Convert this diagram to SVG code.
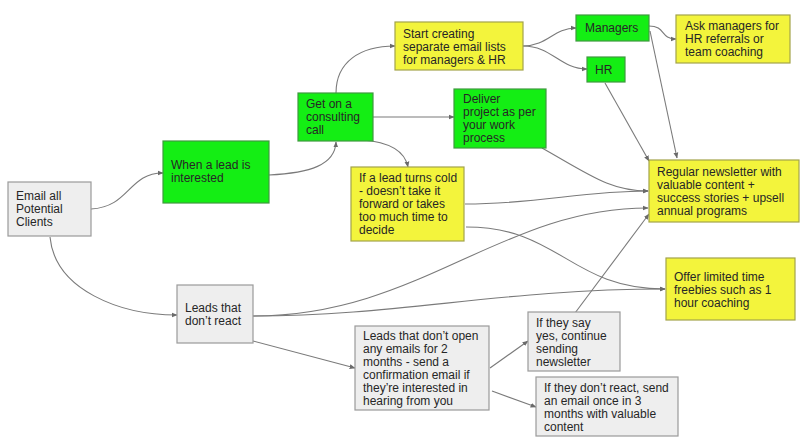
<svg xmlns="http://www.w3.org/2000/svg" width="800" height="445" viewBox="0 0 800 445">
<style>
.g rect{fill:#eeeeee;stroke:#9a9a9a;stroke-width:1.2}
.gr rect{fill:#14ee14;stroke:#3f9a3f;stroke-width:1.2}
.y rect{fill:#f3f43c;stroke:#a3a34a;stroke-width:1.2}
text{font-family:"Liberation Sans",Arial,sans-serif;font-size:12px;fill:#262626}
.c path{fill:none;stroke:#7a7a7a;stroke-width:1.1;marker-end:url(#a)}
</style>
<defs>
<marker id="a" viewBox="0 0 10 10" refX="9" refY="5" markerWidth="6" markerHeight="6" orient="auto" markerUnits="userSpaceOnUse">
<path d="M0,1 L10,5 L0,9 z" fill="#6a6a6a"/>
</marker>
</defs>
<rect width="800" height="445" fill="#ffffff"/>
<g class="c" id="connectors">
<path d="M91,209 C130,207 128,173 163,173"/>
<path d="M269,175 C310,173 335,165 336,142"/>
<path d="M336,93 C336,62 360,46 395,46"/>
<path d="M373,117 L454,117"/>
<path d="M362,140 C390,142 405,152 408,167"/>
<path d="M523,46 C548,46 553,28 576,28"/>
<path d="M523,46 C552,46 560,69 587,69"/>
<path d="M649,26 C666,26 660,39 676,39"/>
<path d="M650,31 L677,158"/>
<path d="M605,83 L649,161"/>
<path d="M542,148 C590,175 610,191 648,191"/>
<path d="M465,204 C540,204 580,191 648,191"/>
<path d="M253,316 C420,316 500,208 648,208"/>
<path d="M466,227 C560,227 570,289 665,289"/>
<path d="M253,316 C400,316 500,289 665,289"/>
<path d="M50,237 C55,290 120,315 177,315"/>
<path d="M253,341 L355,368"/>
<path d="M490,368 L528,341"/>
<path d="M492,391 L536,407"/>
<path d="M575,313 L649,214"/>
</g>
<g class="g" id="email-all">
<rect x="8" y="182" width="83" height="54"/>
<text x="16" y="200">Email all</text>
<text x="16" y="213">Potential</text>
<text x="16" y="226">Clients</text>
</g>
<g class="gr" id="lead-interested">
<rect x="163" y="141" width="106" height="62"/>
<text x="171" y="169">When a lead is</text>
<text x="171" y="182">interested</text>
</g>
<g class="gr" id="consulting-call">
<rect x="298" y="93" width="75" height="48"/>
<text x="306" y="108">Get on a</text>
<text x="306" y="121">consulting</text>
<text x="306" y="134">call</text>
</g>
<g class="y" id="email-lists">
<rect x="395" y="22" width="128" height="48"/>
<text x="403" y="38">Start creating</text>
<text x="403" y="51">separate email lists</text>
<text x="403" y="64">for managers &amp; HR</text>
</g>
<g class="gr" id="managers">
<rect x="576" y="15" width="73" height="26"/>
<text x="585" y="32">Managers</text>
</g>
<g class="gr" id="hr">
<rect x="587" y="57" width="38" height="25"/>
<text x="595" y="74">HR</text>
</g>
<g class="y" id="ask-managers">
<rect x="676" y="15" width="114" height="48"/>
<text x="685" y="30">Ask managers for</text>
<text x="685" y="43">HR referrals or</text>
<text x="685" y="56">team coaching</text>
</g>
<g class="gr" id="deliver-project">
<rect x="454" y="89" width="92" height="59"/>
<text x="463" y="103">Deliver</text>
<text x="463" y="116">project as per</text>
<text x="463" y="129">your work</text>
<text x="463" y="142">process</text>
</g>
<g class="y" id="lead-cold">
<rect x="351" y="167" width="113" height="74"/>
<text x="359" y="182">If a lead turns cold</text>
<text x="359" y="195">- doesn’t take it</text>
<text x="359" y="208">forward or takes</text>
<text x="359" y="221">too much time to</text>
<text x="359" y="234">decide</text>
</g>
<g class="y" id="newsletter">
<rect x="649" y="160" width="150" height="62"/>
<text x="657" y="176">Regular newsletter with</text>
<text x="657" y="189">valuable content +</text>
<text x="657" y="202">success stories + upsell</text>
<text x="657" y="215">annual programs</text>
</g>
<g class="y" id="freebies">
<rect x="666" y="258" width="129" height="62"/>
<text x="674" y="281">Offer limited time</text>
<text x="674" y="294">freebies such as 1</text>
<text x="674" y="307">hour coaching</text>
</g>
<g class="g" id="no-react">
<rect x="177" y="285" width="76" height="58"/>
<text x="185" y="312">Leads that</text>
<text x="185" y="325">don’t react</text>
</g>
<g class="g" id="no-open">
<rect x="355" y="326" width="134" height="84"/>
<text x="363" y="340">Leads that don’t open</text>
<text x="363" y="353">any emails for 2</text>
<text x="363" y="366">months - send a</text>
<text x="363" y="379">confirmation email if</text>
<text x="363" y="392">they’re interested in</text>
<text x="363" y="405">hearing from you</text>
</g>
<g class="g" id="say-yes">
<rect x="528" y="312" width="92" height="59"/>
<text x="536" y="327">If they say</text>
<text x="536" y="340">yes, continue</text>
<text x="536" y="353">sending</text>
<text x="536" y="366">newsletter</text>
</g>
<g class="g" id="dont-react">
<rect x="536" y="377" width="142" height="59"/>
<text x="544" y="392">If they don’t react, send</text>
<text x="544" y="405">an email once in 3</text>
<text x="544" y="418">months with valuable</text>
<text x="544" y="431">content</text>
</g>
</svg>
